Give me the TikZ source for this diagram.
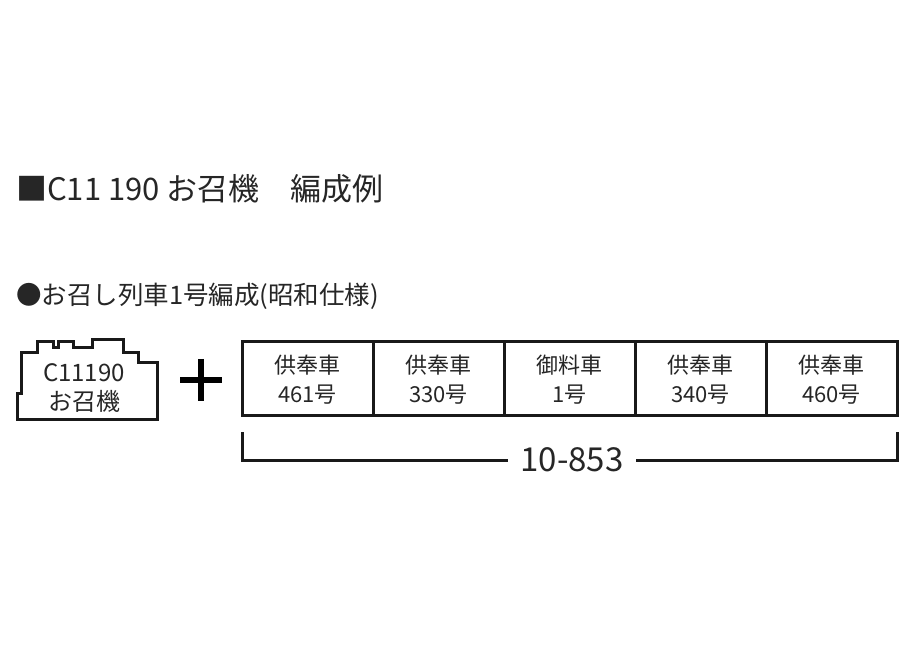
\documentclass[tikz,border=0pt]{standalone}
\usepackage{fontspec}
\setmainfont{Noto Sans CJK JP}
\begin{document}
\begin{tikzpicture}[x=1pt,y=-1pt,line join=miter,
  ol/.style={line width=3pt,draw=black!90},
  car/.style={font=\fontsize{22}{29}\selectfont,align=center,text=black!85}]
\useasboundingbox (0,0) rectangle (924,660);
\node[anchor=west,font=\fontsize{31}{34}\selectfont,text=black!85,inner sep=0pt] (t1) at (16,189) {■C11 190 お召機\hspace{1em}編成例};
\node[anchor=west,font=\fontsize{25.5}{28}\selectfont,text=black!85,inner sep=0pt] (t2) at (16,296) {●お召し列車1号編成(昭和仕様)};
\draw[ol] (17,419) -- (17,393) -- (21,393) -- (21,353) -- (37,353) -- (37,342) -- (53,342) -- (53,348) -- (58,348) -- (58,342) -- (73,342) -- (73,348) -- (92,348) -- (92,340) -- (123,340) -- (123,353) -- (138,353) -- (138,363) -- (157,363) -- (157,419) -- cycle;
\node[car,font=\fontsize{24}{29}\selectfont] (loco) at (84,388) {C11190\\お召機};
\draw[line width=6pt] (180,380) -- (222,380) (201,359) -- (201,401);
\node[inner sep=0pt] (plus) at (201,380) {};
\draw[ol] (242,342) rectangle (897,415);
\foreach \x in {373,504,635,766} \draw[ol] (\x,342) -- (\x,415);
\node[car] (c1) at (307.5,380) {供奉車\\461号};
\node[car] (c2) at (438.5,380) {供奉車\\330号};
\node[car] (c3) at (569.5,380) {御料車\\1号};
\node[car] (c4) at (700.5,380) {供奉車\\340号};
\node[car] (c5) at (831.5,380) {供奉車\\460号};
\node[font=\fontsize{33}{34}\selectfont,fill=white,inner xsep=12pt,text=black!85] (lbl) at (572,460) {10-853};
\draw[ol] (242,432) -- (242,460) -- (lbl.west);
\draw[ol] (897,432) -- (897,460) -- (lbl.east);
\end{tikzpicture}
\end{document}
